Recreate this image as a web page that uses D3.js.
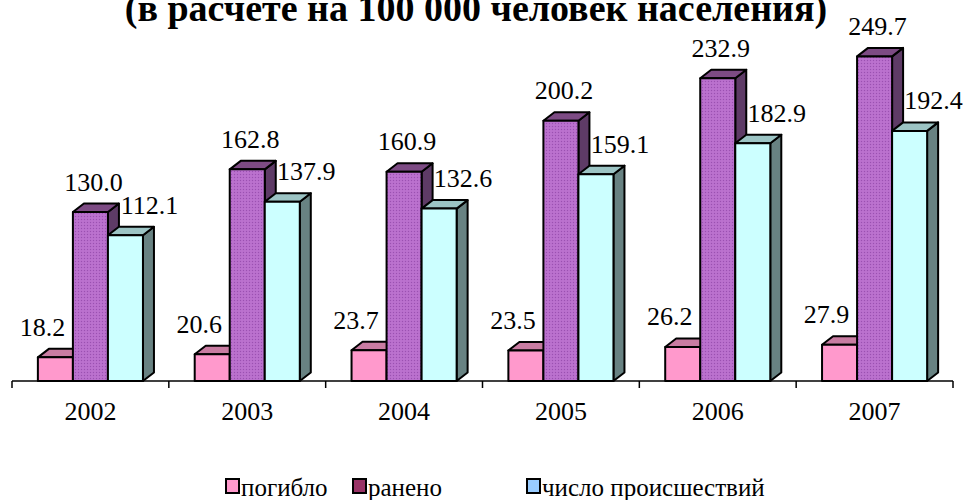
<!DOCTYPE html>
<html>
<head>
  <meta charset="UTF-8">
  <title>ДТП на 100 000 человек населения</title>
  <style>
      body { margin: 0; background: #fff; }
      .bar-face { stroke: #000; stroke-width: 2; stroke-linejoin: round; }
      .axis-line { stroke: #000; stroke-width: 1.5; }
  </style>
</head>
<body>
<div id="chart"></div>
<script src="https://d3js.org/d3.v7.min.js"></script>
<script>
  const years = ['2002', '2003', '2004', '2005', '2006', '2007'];
  const seriesNames = ['погибло', 'ранено', 'число происшествий'];
  const killed = [18.2, 20.6, 23.7, 23.5, 26.2, 27.9];
  const injured = [130.0, 162.8, 160.9, 200.2, 232.9, 249.7];
  const accidents = [112.1, 137.9, 132.6, 159.1, 182.9, 192.4];
  const seriesValues = [killed, injured, accidents];

  const width = 980, height = 500;
  const baseY = 381;
  const depthX = 11, depthY = 8.5;
  const serif = '"Liberation Serif"';

  // front / top / side colours of the 3d bars, legend swatch colours
  const faces = [
    {front: '#FF99CC', top: '#C97CA2', side: '#994D73'},
    {front: 'url(#dots)', top: '#7D4B84', side: '#5E3B66'},
    {front: '#CCFFFF', top: '#9CC4C4', side: '#688282'}
  ];
  const legendColors = ['#FF99CC', '#993366', '#99CCFF'];
  const labelShift = [-13, 3, 24];

  const svg = d3.select('#chart').append('svg')
    .attr('width', width)
    .attr('height', height);

  const defs = svg.append('defs');
  const pat = defs.append('pattern')
    .attr('id', 'dots')
    .attr('patternUnits', 'userSpaceOnUse')
    .attr('width', 3)
    .attr('height', 3);
  pat.append('rect').attr('width', 3).attr('height', 3).attr('fill', '#B86DCC');
  pat.append('rect').attr('width', 1).attr('height', 1).attr('fill', '#9A52B0');
  pat.append('rect').attr('x', 1.5).attr('y', 1.5).attr('width', 1).attr('height', 1).attr('fill', '#C580D6');

  const x0 = d3.scaleBand()
    .domain(years)
    .range([12, 953])
    .padding(0);

  const groupW = x0.bandwidth() * 0.67;
  const x1 = d3.scaleBand()
    .domain(d3.range(seriesNames.length))
    .range([0, groupW])
    .padding(0);

  const y = d3.scaleLinear()
    .domain([0, 250])
    .range([baseY, baseY - 325]);

  // title (its top is cut off in the original)
  svg.append('text')
    .attr('x', 476)
    .attr('y', 21)
    .attr('text-anchor', 'middle')
    .style('font-family', serif)
    .style('font-size', '38px')
    .style('font-weight', 'bold')
    .text('(в расчете на 100 000 человек населения)');

  // axis
  const axisG = svg.append('g');
  axisG.append('line')
    .attr('class', 'axis-line')
    .attr('x1', x0.range()[0]).attr('x2', x0.range()[1])
    .attr('y1', baseY).attr('y2', baseY);
  const bounds = years.map(d => x0(d)).concat([x0.range()[1]]);
  axisG.selectAll('.tick-mark')
    .data(bounds)
    .enter().append('line')
    .attr('class', 'axis-line')
    .attr('x1', d => d).attr('x2', d => d)
    .attr('y1', baseY).attr('y2', baseY + 7);

  const xAxis = svg.append('g')
    .attr('transform', `translate(0,${baseY})`)
    .call(d3.axisBottom(x0).tickSize(0).tickPadding(0));
  xAxis.attr('font-family', serif).attr('font-size', 26);
  xAxis.select('.domain').remove();
  xAxis.selectAll('text')
    .attr('y', 39)
    .attr('dy', 0)
    .attr('fill', '#000')
    .style('font-family', serif)
    .style('font-size', '26px');

  function barPoints(xl, w, top) {
    return {
      front: [[xl, top], [xl + w, top], [xl + w, baseY], [xl, baseY]],
      topF: [[xl, top], [xl + w, top], [xl + w + depthX, top - depthY], [xl + depthX, top - depthY]],
      side: [[xl + w, top], [xl + w + depthX, top - depthY], [xl + w + depthX, baseY - depthY], [xl + w, baseY]]
    };
  }
  const poly = pts => pts.map(p => p.join(',')).join(' ');

  years.forEach((yr, i) => {
    const gx = x0(yr) + (x0.bandwidth() - groupW) / 2;
    const g = svg.append('g').attr('class', 'group');
    seriesValues.forEach((vals, s) => {
      const v = vals[i];
      const xl = gx + x1(s);
      const w = x1.bandwidth();
      const top = y(v);
      const p = barPoints(xl, w, top);
      g.append('polygon').attr('class', 'bar-face').attr('points', poly(p.side)).attr('fill', faces[s].side);
      g.append('polygon').attr('class', 'bar-face').attr('points', poly(p.topF)).attr('fill', faces[s].top);
      g.append('polygon').attr('class', 'bar-face').attr('points', poly(p.front)).attr('fill', faces[s].front);
    });
  });

  // value labels on top of everything
  years.forEach((yr, i) => {
    const gx = x0(yr) + (x0.bandwidth() - groupW) / 2;
    seriesValues.forEach((vals, s) => {
      const v = vals[i];
      svg.append('text')
        .attr('x', gx + x1(s) + x1.bandwidth() / 2 + labelShift[s])
        .attr('y', y(v) - depthY - 13)
        .attr('text-anchor', 'middle')
        .style('font-family', serif)
        .style('font-size', '26px')
        .text(v.toFixed(1));
    });
  });

  // legend
  const legendX = [226, 353, 527];
  const legend = svg.append('g');
  seriesNames.forEach((name, s) => {
    legend.append('rect')
      .attr('x', legendX[s]).attr('y', 479)
      .attr('width', 13).attr('height', 14)
      .attr('fill', legendColors[s])
      .attr('stroke', '#000').attr('stroke-width', 2);
    legend.append('text')
      .attr('x', legendX[s] + 15).attr('y', 496)
      .style('font-family', serif)
      .style('font-size', '25px')
      .text(name);
  });
</script>
</body>
</html>
